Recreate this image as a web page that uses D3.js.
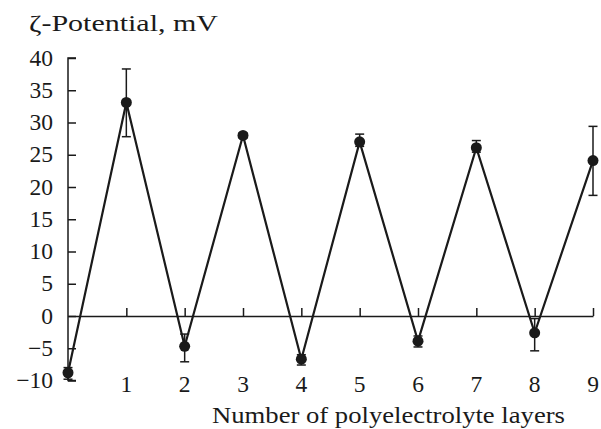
<!DOCTYPE html>
<html>
<head>
<meta charset="utf-8">
<script src="https://cdn.jsdelivr.net/npm/d3@7"></script>
<style>
body { margin: 0; background: #fff; }
text { font-family: "Liberation Serif", "Times New Roman", serif; fill: #1a1a1a; }
</style>
</head>
<body>
<svg id="chart" width="601" height="429"></svg>
<script>
var layers = [0, 1, 2, 3, 4, 5, 6, 7, 8, 9];
var zeta = [-8.8, 33.1, -4.7, 28.0, -6.7, 27.0, -3.9, 26.1, -2.6, 24.1];
var errLow = [-9.8, 27.8, -7.1, 27.6, -7.6, 26.3, -4.8, 25.4, -5.4, 18.7];
var errHigh = [-8.0, 38.3, -2.8, 28.4, -6.0, 28.2, -3.1, 27.2, -0.4, 29.4];
var yTicks = [-10, -5, 0, 5, 10, 15, 20, 25, 30, 35, 40];
var xTicks = [1, 2, 3, 4, 5, 6, 7, 8, 9];

var svg = d3.select("#chart");
var ink = "#1a1a1a";
var fs = 23.5;

var x = d3.scaleLinear().domain([0, 9]).range([68, 593]);
var y = d3.scaleLinear().domain([-10, 40]).range([380.5, 58]);

var data = layers.map((d, i) => {
    return {n: d, v: zeta[i], lo: errLow[i], hi: errHigh[i]};
});

// y axis, ticks pointing inward
var yAxis = svg.append('g')
    .attr('transform', 'translate(' + x(0) + ',0)')
    .call(d3.axisRight(y).tickValues(yTicks).tickSize(8).tickFormat(''));
yAxis.select('.domain').attr('d', 'M8,' + y(-10) + 'H0V' + y(40) + 'H8');
yAxis.selectAll('line, path').attr('stroke', ink).attr('stroke-width', 1.5);

svg.append('g').selectAll('text')
    .data(yTicks)
    .enter().append('text')
    .attr('x', 53)
    .attr('y', (d) => y(d) + 7.5)
    .attr('text-anchor', 'end')
    .attr('font-size', fs)
    .text((d) => d < 0 ? '\u2212' + Math.abs(d) : d);

// x axis on the zero line, ticks pointing up
var xAxis = svg.append('g')
    .attr('transform', 'translate(0,' + y(0) + ')')
    .call(d3.axisTop(x).tickValues(xTicks).tickSize(8).tickSizeOuter(0).tickFormat(''));
xAxis.selectAll('line, path').attr('stroke', ink).attr('stroke-width', 1.5);

svg.append('g').selectAll('text')
    .data(xTicks)
    .enter().append('text')
    .attr('x', (d) => x(d))
    .attr('y', 392)
    .attr('text-anchor', 'middle')
    .attr('font-size', fs)
    .text((d) => d);

// error bars
var eb = svg.append('g').attr('stroke', ink).attr('stroke-width', 1.5);
data.forEach((d) => {
    eb.append('line').attr('x1', x(d.n)).attr('x2', x(d.n)).attr('y1', y(d.lo)).attr('y2', y(d.hi));
    eb.append('line').attr('x1', x(d.n) - 4.5).attr('x2', x(d.n) + 4.5).attr('y1', y(d.lo)).attr('y2', y(d.lo));
    eb.append('line').attr('x1', x(d.n) - 4.5).attr('x2', x(d.n) + 4.5).attr('y1', y(d.hi)).attr('y2', y(d.hi));
});

var line = d3.line()
    .x((d) => x(d.n))
    .y((d) => y(d.v));

svg.append('path')
    .datum(data)
    .attr('fill', 'none')
    .attr('stroke', ink)
    .attr('stroke-width', 2.2)
    .attr('d', line);

svg.append('g').selectAll('circle')
    .data(data)
    .enter().append('circle')
    .attr('cx', (d) => x(d.n))
    .attr('cy', (d) => y(d.v))
    .attr('r', 5.5)
    .attr('fill', ink);

svg.append('text')
    .attr('x', 29)
    .attr('y', 31)
    .attr('font-size', fs)
    .attr('textLength', 189)
    .attr('lengthAdjust', 'spacingAndGlyphs')
    .text('\u03b6-Potential, mV');

svg.append('text')
    .attr('x', 212)
    .attr('y', 423)
    .attr('font-size', fs)
    .attr('textLength', 353)
    .attr('lengthAdjust', 'spacingAndGlyphs')
    .text('Number of polyelectrolyte layers');
</script>
</body>
</html>
